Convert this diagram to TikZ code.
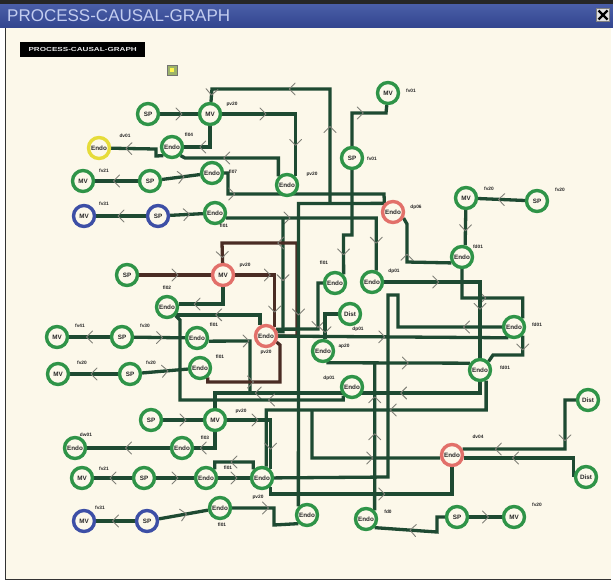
\documentclass[tikz,border=0pt]{standalone}
\usepackage{fontspec}
\setmainfont{Liberation Sans}
\usetikzlibrary{decorations.markings}
\pgfdeclarelayer{back}\pgfdeclarelayer{wires}
\pgfsetlayers{back,wires,main}
\definecolor{cream}{HTML}{FCF8EA}
\definecolor{titleA}{HTML}{4A5EA8}
\definecolor{titleB}{HTML}{33468F}
\definecolor{titletext}{HTML}{C3CDF0}
\definecolor{ringg}{HTML}{2F9448}
\definecolor{ringr}{HTML}{E2706A}
\definecolor{ringb}{HTML}{3D4FA6}
\definecolor{ringy}{HTML}{E6DC3A}
\definecolor{wirec}{HTML}{1E4A32}
\definecolor{wireb}{HTML}{4A2C24}
\definecolor{chevc}{HTML}{808078}
\definecolor{iconc}{HTML}{9DB36A}
\tikzset{
 nd/.style={circle, draw=ringg, line width=3.4pt, fill=cream, minimum size=21pt, inner sep=0pt, font=\fontsize{6.3}{6.3}\selectfont\bfseries, text=black!85},
 ndr/.style={nd, draw=ringr},
 ndb/.style={nd, draw=ringb},
 ndy/.style={nd, draw=ringy},
 lbl/.style={font=\fontsize{4.8}{4.8}\selectfont\bfseries, inner sep=0pt, text=black!85},
 w/.style={draw=wirec, line width=3.3pt},
 wb/.style={draw=wireb, line width=3.3pt},
 am/.style={postaction={decorate,decoration={markings,mark=at position #1 with {\draw[chevc,line width=0.9pt,line cap=round,line join=round] (-3pt,-6pt) -- (3pt,0pt) -- (-3pt,6pt);}}}},
}
\begin{document}
\begin{tikzpicture}[x=1pt,y=-1pt]
\useasboundingbox (0,0) rectangle (613,582);
\begin{pgfonlayer}{back}
\fill[white] (0,0) rectangle (613,582);
\fill[cream] (6,27) rectangle (611,579);
\draw[black!80, line width=1.5pt] (5.5,27) -- (5.5,579.5) -- (611,579.5);
\fill[black!85] (0,0) rectangle (613,4);
\shade[top color=titleA, bottom color=titleB] (0,4) rectangle (613,27);
\end{pgfonlayer}
\node[anchor=west, text=titletext, font=\fontsize{17}{17}\selectfont, inner sep=0pt] (title) at (7,16) {PROCESS-CAUSAL-GRAPH};
\node[draw=black!50, fill=black!12, minimum size=13pt, inner sep=0pt] (closebtn) at (603,15) {};
\draw[line width=2.2pt] (598.5,10.5) -- (607.5,19.5) (598.5,19.5) -- (607.5,10.5);
\node[fill=black, text=white!90!black, anchor=west, inner sep=0pt, minimum width=125pt, minimum height=15pt, font=\fontsize{6.5}{6.5}\selectfont\bfseries] (tag) at (20,49.5) {\scalebox{1.25}[0.9]{PROCESS-CAUSAL-GRAPH}};
\node[draw=black!55, fill=iconc, minimum size=10pt, inner sep=0pt, line width=1pt] (icon) at (172,70) {};
\fill[yellow!70!white] (170,68) rectangle (174,72);

% nodes
\node[nd] (sp1) at (148,114) {SP};
\node[nd] (mv1) at (210,114) {MV};
\node[nd] (mv2) at (388,93) {MV};
\node[ndy] (en1) at (99,148) {Endo};
\node[nd] (en2) at (172,147) {Endo};
\node[nd] (mv3) at (83,181) {MV};
\node[nd] (sp2) at (150,181) {SP};
\node[nd] (en3) at (212,173) {Endo};
\node[nd] (en4) at (287,185) {Endo};
\node[nd] (sp3) at (352,158) {SP};
\node[ndb] (mv4) at (84,216) {MV};
\node[ndb] (sp4) at (158,216) {SP};
\node[nd] (en5) at (215,213) {Endo};
\node[ndr] (en6) at (393,212) {Endo};
\node[nd] (mv5) at (466,198) {MV};
\node[nd] (sp5) at (537,201) {SP};
\node[nd] (en7) at (462,257) {Endo};
\node[nd] (sp6) at (127,275) {SP};
\node[ndr] (mv6) at (223,275) {MV};
\node[nd] (en8) at (335,283) {Endo};
\node[nd] (en9) at (372,282) {Endo};
\node[nd] (en10) at (167,307) {Endo};
\node[nd] (di1) at (350,314) {Dist};
\node[nd] (en11) at (514,327) {Endo};
\node[nd] (mv7) at (57,337) {MV};
\node[nd] (sp7) at (122,337) {SP};
\node[nd] (en12) at (197,338) {Endo};
\node[ndr] (en13) at (266,336) {Endo};
\node[nd] (en14) at (323,351) {Endo};
\node[nd] (mv8) at (58,374) {MV};
\node[nd] (sp8) at (130,374) {SP};
\node[nd] (en15) at (200,368) {Endo};
\node[nd] (en16) at (352,387) {Endo};
\node[nd] (en17) at (480,370) {Endo};
\node[nd] (di2) at (588,400) {Dist};
\node[nd] (sp9) at (151,420) {SP};
\node[nd] (mv9) at (215,420) {MV};
\node[nd] (en18) at (75,448) {Endo};
\node[nd] (en19) at (182,448) {Endo};
\node[nd] (mv10) at (82,478) {MV};
\node[nd] (sp10) at (144,478) {SP};
\node[nd] (en20) at (206,478) {Endo};
\node[nd] (en21) at (262,478) {Endo};
\node[ndr] (en22) at (452,455) {Endo};
\node[nd] (di3) at (586,477) {Dist};
\node[ndb] (mv11) at (84,521) {MV};
\node[ndb] (sp11) at (147,521) {SP};
\node[nd] (en23) at (220,508) {Endo};
\node[nd] (en24) at (307,515) {Endo};
\node[nd] (en25) at (366,519) {Endo};
\node[nd] (sp12) at (457,517) {SP};
\node[nd] (mv12) at (514,517) {MV};

% labels
\node[lbl] (l1) at (232,104) {pv20};
\node[lbl] (l2) at (411,91) {fv01};
\node[lbl] (l3) at (125,136) {dv01};
\node[lbl] (l4) at (189,135) {fl04};
\node[lbl] (l5) at (104,171) {fv21};
\node[lbl] (l6) at (233,172) {fl07};
\node[lbl] (l7) at (312,174) {pv20};
\node[lbl] (l8) at (372,159) {fv01};
\node[lbl] (l9) at (104,204) {fv31};
\node[lbl] (l10) at (224,226) {fl01};
\node[lbl] (l11) at (416,207) {dp06};
\node[lbl] (l12) at (489,189) {fv20};
\node[lbl] (l13) at (560,190) {fv20};
\node[lbl] (l14) at (478,247) {fd01};
\node[lbl] (l15) at (245,265) {pv20};
\node[lbl] (l16) at (324,263) {fl01};
\node[lbl] (l17) at (394,271) {dp01};
\node[lbl] (l18) at (167,288) {fl02};
\node[lbl] (l19) at (358,329) {dp01};
\node[lbl] (l20) at (537,325) {fd01};
\node[lbl] (l21) at (80,326) {fv41};
\node[lbl] (l22) at (145,326) {fv30};
\node[lbl] (l23) at (214,325) {fl01};
\node[lbl] (l24) at (266,352) {pv20};
\node[lbl] (l25) at (344,346) {ap20};
\node[lbl] (l26) at (82,363) {fv20};
\node[lbl] (l27) at (151,363) {fv20};
\node[lbl] (l28) at (220,357) {fl01};
\node[lbl] (l29) at (329,378) {dp01};
\node[lbl] (l30) at (505,368) {fd01};
\node[lbl] (l31) at (241,411) {pv20};
\node[lbl] (l32) at (86,435) {dw01};
\node[lbl] (l33) at (205,438) {fl03};
\node[lbl] (l34) at (104,469) {fv21};
\node[lbl] (l35) at (228,468) {fl01};
\node[lbl] (l36) at (258,497) {pv20};
\node[lbl] (l37) at (478,437) {dv04};
\node[lbl] (l38) at (100,508) {fv31};
\node[lbl] (l39) at (222,525) {fl01};
\node[lbl] (l40) at (388,512) {fd0};
\node[lbl] (l41) at (537,505) {fv20};

\begin{pgfonlayer}{wires}
\draw[w,am=0.5] (sp1) -- (mv1);
\draw[w,am=0.3,am=0.75] (mv1) -| (en4.north east);
\draw[w,am=0.3,am=0.62,am=0.96] (330,203) -- (330,89) -- (212,89) -- (mv1);
\draw[w,am=0.55] (sp3) |- (386,113) -- (mv2);
\draw[w,am=0.8] (sp3) -- (352,235) -- (343.5,235) -- (en8.north east);
\draw[w,am=0.6] (mv1) |- (en2);
\draw[w,am=0.6] (en4.north west) |- (185,158) -- (en2.south east);
\draw[w,am=0.5] (sp2) -- (en3);
\draw[w,am=0.5] (sp2) -- (mv3);
\draw[w,am=0.7] (en2.south west) -- (156,156) -- (156,149) -- (en1);
\draw[w,am=0.15] (en3) -| (228,194) -- (384,194) -- (en6.north west);
\draw[w,am=0.5] (sp4) -- (en5);
\draw[w,am=0.5] (sp4) -- (mv4);
\draw[w,am=0.3,am=0.85] (en5.-24) -- (376.3,218) -- (en9.70);
\draw[w,am=0.5] (283,218) -- (283,331.7) -- (en13.20);
\draw[w,am=0.55] (en7.209) -- (407,262) -- (407,224) -- (en6.-30);
\draw[w,am=0.5] (sp5) -- (mv5);
\draw[w,am=0.5] (mv5) -- (en7.75);
\draw[w,am=0.45] (en7.south) -- (462,298) -- (522.8,298) -- (en11.north east);
\draw[w,am=0.3,am=0.7] (en9) -| (en17);
\draw[w,am=0.08] (en11.west) -- (398,327) -- (398,295) -- (388,295) -- (388,477) -- (en21);
\draw[w,am=0.2] (en11.south east) -- (522.8,355) -- (493,355) -- (en17.north east);
\draw[w,am=0.3,am=0.78] (di2) -- (565,400) -- (565,449) -- (en22.29);
\draw[w,am=0.6] (di3.west) |- (en22.-14);
\draw[w,am=0.5] (sp12) -- (mv12);
\draw[w,am=0.55] (sp12) -- (437,517) -- (437,532) -- (en25.south east);
\draw[wb,am=0.5] (sp6) -- (mv6);
\draw[wb,am=0.35,am=0.8] (mv6) -| (en13.north east);
\draw[wb,am=0.62,am=0.96] (en13.east) -- (297,336) -- (297,243) -- (222,243) -- (mv6);
\draw[w,am=0.7] (mv6) |- (en10.14);
\draw[w,am=0.55] (en13.120) |- (en10.-40);
\draw[w,am=0.5] (en8.west) -- (318,283) -- (318,329) -- (en13.34);
\draw[w,am=0.5] (sp7) -- (mv7);
\draw[w,am=0.5] (sp7) -- (en12);
\draw[w,am=0.5] (sp8) -- (mv8);
\draw[w,am=0.5] (sp8) -- (en15);
\draw[w,am=0.75] (di1) -| (en14.80);
\draw[w,am=0.45] (en13) -- (en11.-118);
\draw[w,am=0.55] (en14.-74) -- (en17.146);
\draw[w,am=0.5,am=0.75] (en25.north east) -- (374.8,363);
\draw[w,am=0.3,am=0.8] (en17) |- (215,393) -- (mv9);
\draw[w,am=0.4] (en17.-60) |- (266.3,410) -- (en21.70);
\draw[w,am=0.6] (312,410) -- (312,458) -- (en22.194);
\draw[w,am=0.55] (en21.south east) |- (452,494) -- (en22.south);
\draw[w,am=0.3] (en16.south west) -- (343.2,400) -- (180,400) -- (180,320) -- (en10.south east);
\draw[w,am=0.4] (en12.-15) -- (250,341) -- (250,393);
\draw[wb,am=0.4] (en15.-50) |- (280,382) -- (280,345) -- (en13.-30);
\draw[w,am=0.5] (sp9) -- (mv9);
\draw[w,am=0.75] (mv9) |- (en19);
\draw[w,am=0.3,am=0.75] (mv9) -| (en21.north east);
\draw[w,am=0.5] (en19) -- (en18);
\draw[w,am=0.5] (sp10) -- (mv10);
\draw[w,am=0.5] (sp10) -- (en20);
\draw[w,am=0.5] (en20) -- (en21);
\draw[w,am=0.5] (en21.north west) -- (253.2,462) -- (214.8,462) -- (en20.north east);
\draw[w,am=0.5] (sp11) -- (mv11);
\draw[w,am=0.5] (sp11) -- (en23);
\draw[w,am=0.4] (en23) -- (274,508) -- (274,525) -- (en24.south west);
\draw[w,am=0.5] (en6.north west) -- (298.5,203.5) -- (en24.north west);
\end{pgfonlayer}
\end{tikzpicture}
\end{document}
